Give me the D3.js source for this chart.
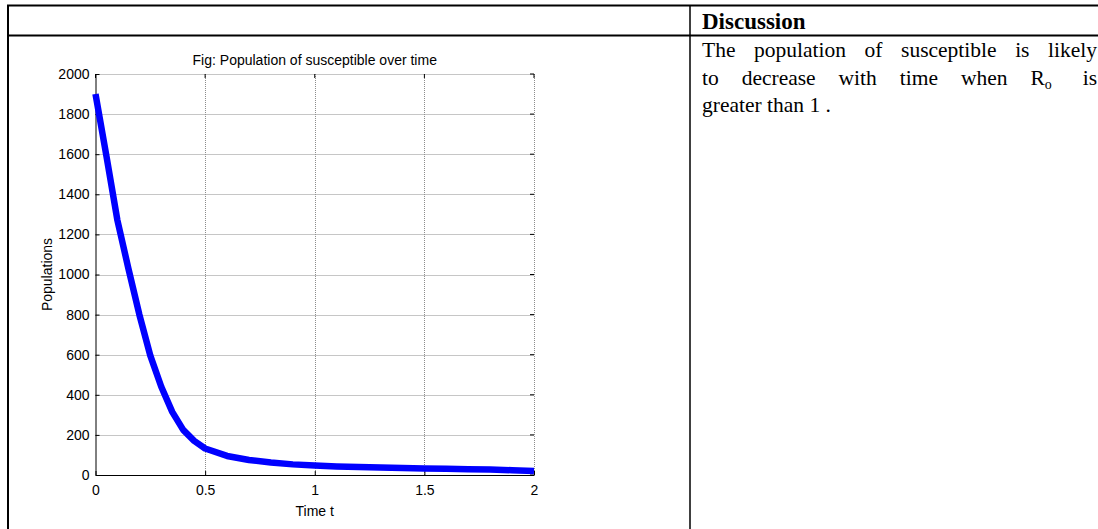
<!DOCTYPE html>
<html>
<head>
<meta charset="utf-8">
<script src="https://cdn.jsdelivr.net/npm/d3@7"></script>
<style>
  html, body { margin: 0; padding: 0; background: #fff; }
  svg { display: block; }
</style>
</head>
<body>
<svg id="chart" width="1098" height="529"></svg>
<script>
// ---- data ----
const timeValues = [0, 0.05, 0.1, 0.15, 0.2, 0.25, 0.3, 0.35, 0.4, 0.45, 0.5, 0.6, 0.7, 0.8, 0.9, 1.0, 1.1, 1.2, 1.3, 1.4, 1.5, 1.6, 1.7, 1.8, 1.9, 2.0];
const susceptible = [1900, 1590, 1270, 1030, 800, 595, 440, 315, 225, 170, 132, 95, 75, 62, 53, 47, 43, 40, 37, 35, 33, 31, 29, 27, 24, 20];
const xTicks = [0, 0.5, 1, 1.5, 2];
const xTickLabels = ["0", "0.5", "1", "1.5", "2"];
const yTicks = [0, 200, 400, 600, 800, 1000, 1200, 1400, 1600, 1800, 2000];
const chartTitle = "Fig: Population of susceptible over time";
const xLabel = "Time t";
const yLabel = "Populations";
const headingText = "Discussion";
// words of the justified lines; second entry = relative gap weight after the word
const line1Words = [["The", 1], ["population", 1], ["of", 1], ["susceptible", 1], ["is", 1], ["likely", 0]];
const line2Words = [["to", 1], ["decrease", 1], ["with", 1], ["time", 1], ["when", 1], ["R\u2092", 1.35], ["is", 0]];
const line3Text = "greater than 1 .";

const svg = d3.select("#chart");

// ---- table frame ----
const tbl = { left: 8, top: 5.5, header: 35.5, sep: 690, right: 1098, bottom: 529 };
const frame = svg.append("g").attr("stroke", "#000").attr("stroke-width", 2);
frame.append("line").attr("x1", tbl.left - 1).attr("x2", tbl.right).attr("y1", tbl.top).attr("y2", tbl.top);
frame.append("line").attr("x1", tbl.left - 1).attr("x2", tbl.right).attr("y1", tbl.header).attr("y2", tbl.header);
frame.append("line").attr("x1", tbl.left).attr("x2", tbl.left).attr("y1", tbl.top).attr("y2", tbl.bottom);
frame.append("line").attr("x1", tbl.sep).attr("x2", tbl.sep).attr("y1", tbl.top).attr("y2", tbl.bottom).attr("stroke-width", 1.5);

// ---- chart ----
const plot = { left: 95.5, right: 534, top: 74, bottom: 475 };
const x = d3.scaleLinear().domain([0, 2]).range([plot.left, plot.right]);
const y = d3.scaleLinear().domain([0, 2000]).range([plot.bottom, plot.top]);
const font = "'Liberation Sans', Arial, sans-serif";

// grid
const grid = svg.append("g").attr("stroke", "#8c8c8c").attr("stroke-width", 1).attr("stroke-dasharray", "1,1");
grid.selectAll("line.gx").data(xTicks.slice(1)).join("line")
  .attr("x1", d => Math.round(x(d)) + 0.5).attr("x2", d => Math.round(x(d)) + 0.5)
  .attr("y1", plot.top).attr("y2", plot.bottom);
grid.selectAll("line.gy").data(yTicks.slice(1)).join("line")
  .attr("x1", plot.left).attr("x2", plot.right)
  .attr("y1", d => Math.round(y(d)) + 0.5).attr("y2", d => Math.round(y(d)) + 0.5);

// axes (MATLAB style: ticks inside)
const xAxis = d3.axisBottom(x).tickValues(xTicks).tickFormat((d, i) => xTickLabels[i]).tickSizeInner(-4).tickSizeOuter(0).tickPadding(10);
const gx = svg.append("g").attr("transform", `translate(0,${plot.bottom})`).call(xAxis);
const yAxis = d3.axisLeft(y).tickValues(yTicks).tickFormat(d3.format("d")).tickSizeInner(-4).tickSizeOuter(0).tickPadding(6);
const gy = svg.append("g").attr("transform", `translate(${plot.left},0)`).call(yAxis);
[gx, gy].forEach(g => {
  g.select(".domain").attr("stroke", "#000");
  g.selectAll(".tick line").attr("stroke", "#000");
  g.selectAll(".tick text").attr("font-family", font).attr("font-size", 14).attr("fill", "#000");
});
// top & right tick marks
const tr = svg.append("g").attr("stroke", "#000");
tr.selectAll("line.tt").data(xTicks).join("line")
  .attr("x1", d => x(d)).attr("x2", d => x(d)).attr("y1", plot.top).attr("y2", plot.top + 4);
tr.selectAll("line.rt").data(yTicks).join("line")
  .attr("x1", plot.right - 4).attr("x2", plot.right).attr("y1", d => y(d)).attr("y2", d => y(d));

// line
svg.append("path")
  .datum(timeValues.map((t, i) => [t, susceptible[i]]))
  .attr("fill", "none").attr("stroke", "#0000ff").attr("stroke-width", 6.5)
  .attr("stroke-linejoin", "round")
  .attr("d", d3.line().x(d => x(d[0])).y(d => y(d[1])));

// titles
svg.append("text").attr("x", (plot.left + plot.right) / 2).attr("y", 65)
  .attr("text-anchor", "middle").attr("font-family", font).attr("font-size", 14).text(chartTitle);
svg.append("text").attr("x", (plot.left + plot.right) / 2).attr("y", 516)
  .attr("text-anchor", "middle").attr("font-family", font).attr("font-size", 14).text(xLabel);
svg.append("text").attr("transform", `translate(52,${(plot.top + plot.bottom) / 2}) rotate(-90)`)
  .attr("text-anchor", "middle").attr("font-family", font).attr("font-size", 14).text(yLabel);

// ---- discussion cell ----
const serif = "'Liberation Serif', 'Times New Roman', serif";
const textLeft = 702, textRight = 1097, bodySize = 21.5;
svg.append("text").attr("x", textLeft).attr("y", 29).attr("font-family", serif)
  .attr("font-size", 23).attr("font-weight", "bold").text(headingText);

function justify(words, baseline) {
  const g = svg.append("g");
  const nodes = words.map(([w]) => {
    const t = g.append("text").attr("y", baseline).attr("font-family", serif).attr("font-size", bodySize);
    if (w.includes("\u2092")) {
      t.append("tspan").text("R");
      t.append("tspan").attr("font-size", bodySize * 0.65).attr("dy", 4).text("o");
    } else t.text(w);
    return t;
  });
  const widths = nodes.map(n => n.node().getComputedTextLength());
  const nSpaces = d3.sum(words, d => d[1]);
  const perSpace = (textRight - textLeft - d3.sum(widths)) / nSpaces;
  let cx = textLeft;
  nodes.forEach((n, i) => { n.attr("x", cx); cx += widths[i] + perSpace * words[i][1]; });
}
justify(line1Words, 57);
justify(line2Words, 84.5);
svg.append("text").attr("x", textLeft).attr("y", 112).attr("font-family", serif)
  .attr("font-size", bodySize).text(line3Text);
</script>
</body>
</html>
